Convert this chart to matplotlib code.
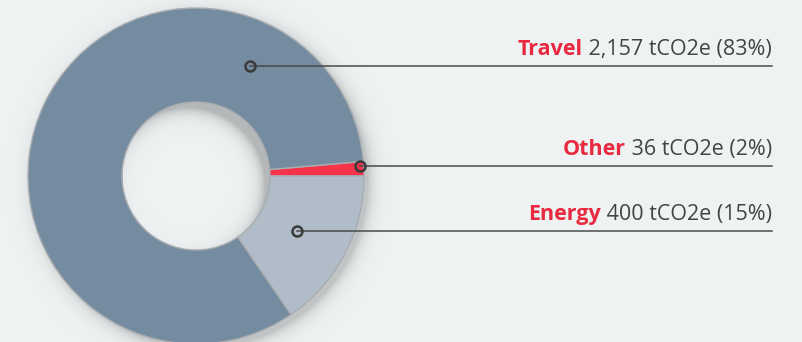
import numpy as np
import matplotlib.pyplot as plt

# emissions by source (tCO2e)
labels = ['Other', 'Travel', 'Energy']
values = [36, 2157, 400]
pct_text = ['2%', '83%', '15%']
value_text = ['36', '2,157', '400']
colors = ['#f5344b', '#748ba0', '#b0bdc9']

W, H = 802, 342
bg = '#eef2f3'
cx, cy = 196, 342 - 176
r_out, r_in = 168, 74

fig = plt.figure(figsize=(W / 100, H / 100), dpi=100, facecolor=bg)
ax = fig.add_axes([0, 0, 1, 1])

# soft shadow behind the ring and inside the hole
yy, xx = np.mgrid[0:H, 0:W]
yy = H - yy
d_out = np.hypot(xx - (cx + 5), yy - (cy - 5))
a = np.where(d_out > r_out - 2, 0.30 * np.exp(-np.clip(d_out - r_out + 2, 0, None) / 7), 0.30)
d_in = np.hypot(xx - (cx - 9), yy - (cy - 9))
hole = np.hypot(xx - cx, yy - cy) < r_in
a = np.where(hole, 0.38 * np.exp(-np.clip(r_in + 4 - d_in, 0, None) / 7), a)
shadow = np.zeros((H, W, 4))
shadow[..., :3] = 0.35
shadow[..., 3] = a
ax.imshow(shadow, extent=[0, W, 0, H], origin='upper', zorder=1, interpolation='bilinear')

wedges, _ = ax.pie(values, colors=colors, startangle=0, counterclock=True,
                   center=(cx, cy), radius=r_out, frame=True,
                   wedgeprops=dict(width=r_out - r_in, edgecolor='#a9adb0', linewidth=1.0))
for w in wedges:
    w.set_zorder(2)
ax.set_xlim(0, W)
ax.set_ylim(0, H)
ax.set_aspect('equal')
ax.axis('off')

# marker points (px) and label line heights
markers = [(360, 166), (250, 66), (297, 231)]
x_end = 772
for (mx, my) in markers:
    ax.plot([mx, x_end], [H - my, H - my], color='#4a4a4a', lw=1.1, zorder=3)
    ax.plot(mx, H - my, 'o', ms=7.2, mfc='none', mec='#3a3a3a', mew=1.8, zorder=4)

fig.canvas.draw()
renderer = fig.canvas.get_renderer()
fs = 15.5
for i, (mx, my) in enumerate(markers):
    ty = H - my + 11
    t = ax.text(x_end, ty, ' %s tCO2e (%s)' % (value_text[i], pct_text[i]),
                ha='right', va='baseline', fontsize=fs, color='#444444',
                family='Open Sans', zorder=5)
    bb = t.get_window_extent(renderer)
    x0 = ax.transData.inverted().transform((bb.x0, bb.y0))[0]
    ax.text(x0, ty, labels[i], ha='right', va='baseline', fontsize=fs,
            color='#e8293f', fontweight='bold', family='Open Sans', zorder=5)

fig.savefig('out.png', dpi=100, facecolor=bg)
